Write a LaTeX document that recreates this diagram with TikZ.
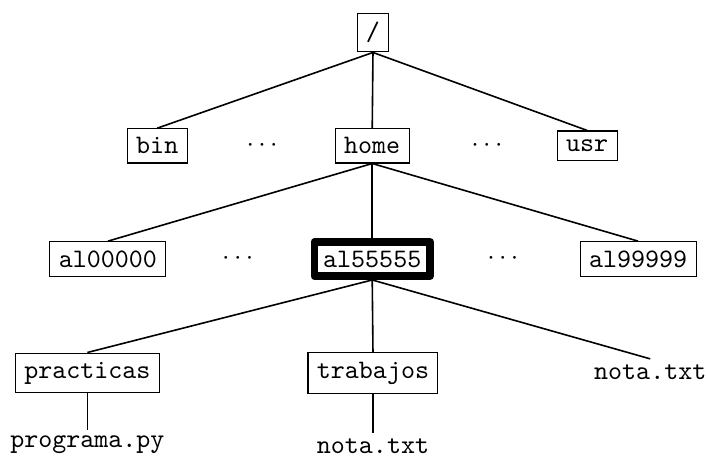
\documentclass[tikz,border=0pt]{standalone}
\usepackage{tikz}
\usetikzlibrary{positioning}

\begin{document}
\begin{tikzpicture}[
    dir/.style={rectangle, draw=black, font=\ttfamily},
    file/.style={rectangle, font=\ttfamily, inner sep=2pt},
    home/.style={dir, line width=2.8pt, line join=round},
    skip/.style={inner sep=0pt},
    ln/.style={black, semithick}
]
\useasboundingbox (0,0) rectangle (9.294,-6.016);

% nivel 0
\node[dir] (root) at (4.91,-0.43) {/};

% nivel 1
\node[dir]  (bin)   at (2.07,-1.92) {bin};
\node[skip] (dotsa) at (3.45,-1.92) {$\cdots$};
\node[dir]  (homed) at (4.90,-1.92) {home};
\node[skip] (dotsb) at (6.41,-1.92) {$\cdots$};
\node[dir]  (usr)   at (7.73,-1.92) {usr};

% nivel 2
\node[dir]  (ala)   at (1.42,-3.41) {al00000};
\node[skip] (dotsc) at (3.13,-3.41) {$\cdots$};
\node[home] (alm)   at (4.90,-3.41) {al55555};
\node[skip] (dotsd) at (6.62,-3.41) {$\cdots$};
\node[dir]  (alz)   at (8.40,-3.41) {al99999};

% nivel 3
\node[dir]  (prac)  at (1.15,-4.91) {practicas};
\node[dir]  (trab)  at (4.91,-4.91) {trabajos};
\node[file] (notaa) at (8.56,-4.90) {nota.txt};

% nivel 4
\node[file] (prog)  at (1.15,-5.85) {programa.py};
\node[file] (notab) at (4.91,-5.87) {nota.txt};

\draw[ln] (root.south) -- (bin.north);
\draw[ln] (root.south) -- (homed.north);
\draw[ln] (root.south) -- (usr.north);

\draw[ln] (homed.south) -- (ala.north);
\draw[ln] (homed.south) -- (alm.north);
\draw[ln] (homed.south) -- (alz.north);

\draw[ln] (alm.south) -- (prac.north);
\draw[ln] (alm.south) -- (trab.north);
\draw[ln] (alm.south) -- (notaa.north);

\draw[ln] (prac.south) -- (prog.north);
\draw[ln] (trab.south) -- (notab.north);
\end{tikzpicture}
\end{document}
